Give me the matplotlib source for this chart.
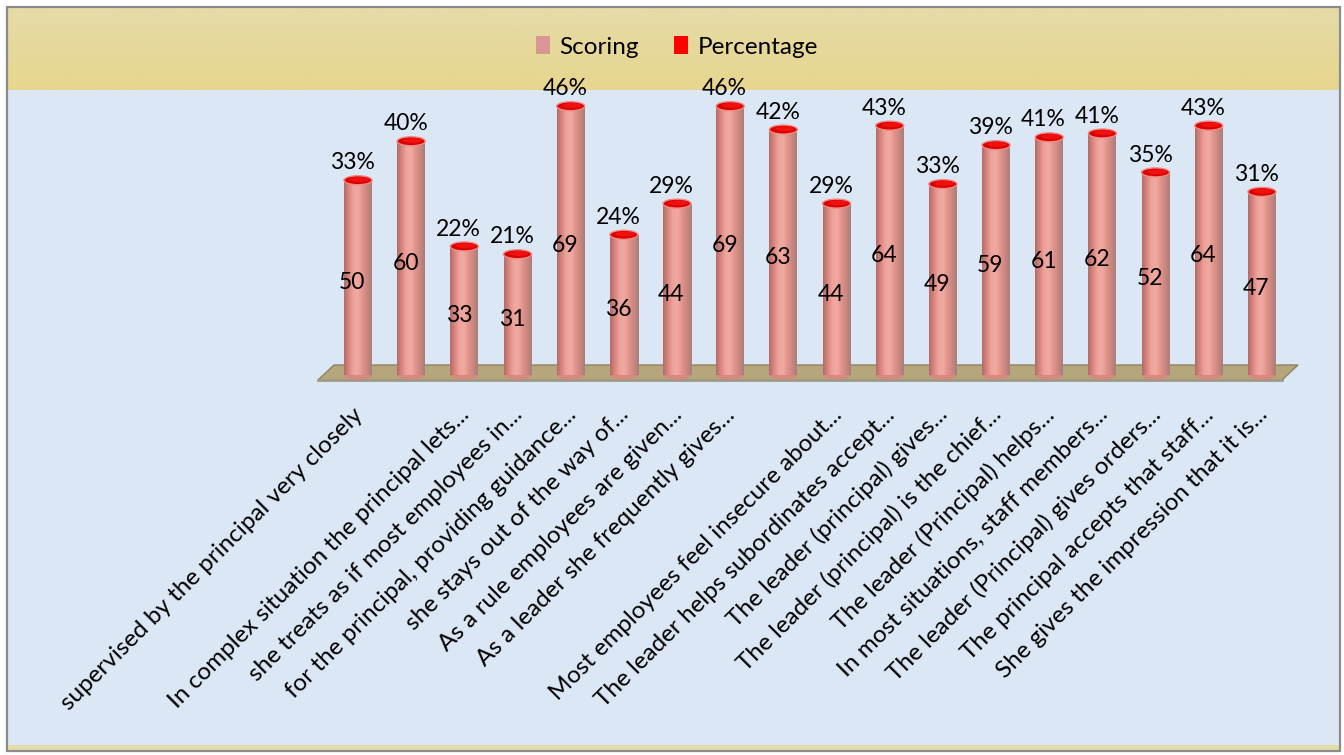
import numpy as np
import matplotlib.pyplot as plt
from matplotlib.patches import Rectangle, Ellipse, Polygon, Patch
from matplotlib.colors import LinearSegmentedColormap

plt.rcParams['font.family'] = ['Lato', 'DejaVu Sans']

# survey items (two bars carry no visible axis label)
categories = [
    "supervised by the principal very closely",
    "",
    "In complex situation the principal lets...",
    "she treats as if most employees in...",
    "for the principal, providing guidance...",
    "she stays out of the way of...",
    "As a rule employees are given...",
    "As a leader she frequently gives...",
    "",
    "Most employees feel insecure about...",
    "The leader helps subordinates accept...",
    "The leader (principal) gives...",
    "The leader (principal) is the chief...",
    "The leader (Principal) helps...",
    "In most situations, staff members...",
    "The leader (Principal) gives orders...",
    "The principal accepts that staff...",
    "She gives the impression that it is...",
]
scoring = [50, 60, 33, 31, 69, 36, 44, 69, 63, 44, 64, 49, 59, 61, 62, 52, 64, 47]
percentage = [33, 40, 22, 21, 46, 24, 29, 46, 42, 29, 43, 33, 39, 41, 41, 35, 43, 31]

W, H = 1344, 755
fig = plt.figure(figsize=(W / 100, H / 100), dpi=100)

# ---- background frame (pixel coordinates) ----
bg = fig.add_axes([0, 0, 1, 1])
bg.axis('off')
bg.add_patch(Rectangle((8, 8), 1331, 742, fc='#dbe7f4', ec='none', zorder=0))
tan = LinearSegmentedColormap.from_list('tan', ['#e6dba8', '#e6d68e'])
bg.imshow(np.linspace(0, 1, 64).reshape(-1, 1), cmap=tan, aspect='auto',
          extent=(8, 1339, 90, 8), zorder=1)
bg.add_patch(Rectangle((8, 745), 1331, 6, fc='#e6dcaa', ec='none', zorder=1))
bg.add_patch(Rectangle((7, 7), 1333, 744, fc='none', ec='#8c8c8c', lw=1.6, zorder=3))
bg.set_xlim(0, W)
bg.set_ylim(H, 0)

# ---- chart area ----
x0, dx = 358.0, 53.17      # pixel centre of first bar, bar spacing
y0, dy = 375.0, 3.87       # pixel baseline, pixels per score unit
L, R, T, B = 300, 1320, 95, 395
ax = fig.add_axes([L / W, 1 - B / H, (R - L) / W, (B - T) / H])
ax.axis('off')
xlim = ((L - x0) / dx, (R - x0) / dx)
ylim = ((y0 - B) / dy, (y0 - T) / dy)

bw = 28 / dx
eh = 9 / dy


def px(xp, yp):
    return ((xp - x0) / dx, (y0 - yp) / dy)


# floor slab
floor = Polygon([px(318, 380), px(1282, 380), px(1298, 365), px(334, 365)],
                closed=True, fc='#b6a67b', ec='#8f8260', lw=1.0, zorder=1)
ax.add_patch(floor)
ax.plot([px(318, 380)[0], px(1282, 380)[0]], [px(0, 380)[1]] * 2,
        color='#a09a86', lw=2, zorder=1.5)

body = LinearSegmentedColormap.from_list(
    'body', ['#b36b68', '#d9867f', '#eea39b', '#f0aaa2', '#e2938b', '#c98780', '#a97e79'])
grad = np.linspace(0, 1, 64).reshape(1, -1)

for i, (s, p) in enumerate(zip(scoring, percentage)):
    left = i - bw / 2
    # rounded bottom of the cylinder
    ax.add_patch(Ellipse((i, 0), bw, eh, fc='#d8877f', ec='none', zorder=2))
    ax.imshow(grad, cmap=body, aspect='auto', extent=(left, left + bw, 0, s),
              zorder=3, interpolation='bicubic')
    # percentage segment sits on top as a thin red cap
    top = s + p / 100
    ax.add_patch(Rectangle((left, s), bw, p / 100, fc='#e00000', ec='none', zorder=3))
    ax.add_patch(Ellipse((i, top), bw, eh, fc='#d80000', ec='#f08a84', lw=1.0, zorder=4))
    ax.add_patch(Ellipse((i + bw * 0.05, top + eh * 0.08), bw * 0.7, eh * 0.55,
                         fc='#f01010', ec='none', zorder=4))

    ax.annotate(f"{p}%", (i, top), xytext=(-4, 12.5), textcoords='offset points',
                ha='center', va='center', fontsize=16.5, color='black', zorder=5)
    ax.annotate(f"{s}", (i, s / 2), xytext=(-4, -3), textcoords='offset points',
                ha='center', va='center', fontsize=16.5, color='black', zorder=5)

for i, lab in enumerate(categories):
    if lab:
        ax.text(i + 0.12, (y0 - 416) / dy, lab, rotation=45, rotation_mode='anchor',
                ha='right', va='baseline', fontsize=17.5, color='black')

ax.set_xlim(*xlim)
ax.set_ylim(*ylim)

handles = [Patch(fc='#d99694', ec='none'), Patch(fc='#ff0000', ec='none')]
fig.legend(handles, ['Scoring', 'Percentage'], loc='center',
           bbox_to_anchor=(677 / W, 1 - 47 / H), ncol=2, frameon=False,
           fontsize=17.5, handlelength=0.55, handleheight=0.75, handletextpad=0.4,
           columnspacing=1.45)

fig.savefig('out.png', dpi=100)
